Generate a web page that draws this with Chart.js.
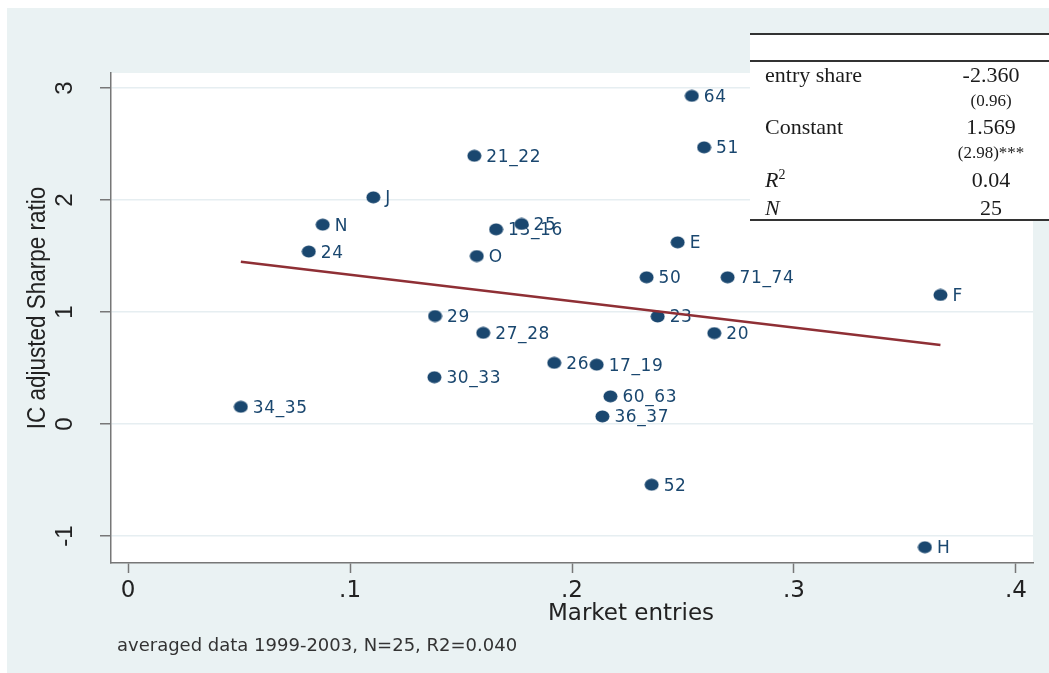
<!DOCTYPE html>
<html>
<head>
<meta charset="utf-8">
<script src="https://cdn.jsdelivr.net/npm/chart.js@4.4.0/dist/chart.umd.min.js"></script>
<style>
  html, body { margin: 0; padding: 0; background: #fff; }
</style>
</head>
<body>
<canvas id="c" width="1049" height="673"></canvas>
<script>
// industry codes next to each marker
const pointLabels = ["64", "51", "21_22", "J", "N", "13_16", "25", "E", "24", "O",
  "50", "71_74", "F", "29", "23", "20", "27_28", "26", "17_19", "30_33",
  "60_63", "34_35", "36_37", "52", "H"];
// market entries (x) and IC adjusted Sharpe ratio (y)
const entries = [0.254, 0.2595, 0.156, 0.1105, 0.0877, 0.1658, 0.1773, 0.2476, 0.0814, 0.1571,
  0.2336, 0.2701, 0.366, 0.1383, 0.2386, 0.2641, 0.160, 0.192, 0.2111, 0.138,
  0.2173, 0.0508, 0.2137, 0.2359, 0.359];
const sharpe = [2.93, 2.47, 2.395, 2.024, 1.78, 1.738, 1.786, 1.622, 1.54, 1.50,
  1.31, 1.31, 1.152, 0.964, 0.96, 0.812, 0.814, 0.546, 0.53, 0.418,
  0.247, 0.154, 0.068, -0.542, -1.10];
// fitted line end points
const fitX = [0.0508, 0.366];
const fitY = [1.449, 0.705];

const xTicks = [0, 0.1, 0.2, 0.3, 0.4];
const yTicks = [-1, 0, 1, 2, 3];

// regression table
const tableNames = ["entry share", "Constant"];
const tableCoefs = ["-2.360", "1.569"];
const tableSE = ["(0.96)", "(2.98)***"];
const tableR2 = "0.04";
const tableN = "25";
const footnote = "averaged data 1999-2003, N=25, R2=0.040";

const navy = "#1a476f";
const sans = '"DejaVu Sans", sans-serif';
const arial = '"Liberation Sans", Arial, sans-serif';
const serif = '"Liberation Serif", "Times New Roman", serif';

// Stata markers come out slightly wide in the picture
const dot = document.createElement("canvas");
dot.width = 15; dot.height = 13;
(function () {
  const d = dot.getContext("2d");
  d.fillStyle = navy;
  d.beginPath();
  d.ellipse(7.5, 6.5, 7, 6, 0, 0, Math.PI * 2);
  d.fill();
})();

const backdrop = {
  id: "backdrop",
  beforeDraw(chart) {
    const { ctx, chartArea: a } = chart;
    ctx.save();
    ctx.fillStyle = "#fff";
    ctx.fillRect(0, 0, chart.width, chart.height);
    ctx.fillStyle = "#eaf2f3";
    ctx.fillRect(7, 8, chart.width - 7, chart.height - 8);
    ctx.fillStyle = "#fff";
    ctx.fillRect(a.left, a.top, a.right - a.left, a.bottom - a.top);
    ctx.restore();
  },
};

// marker labels at 3 o'clock
const markerLabels = {
  id: "markerLabels",
  beforeDatasetsDraw(chart) {
    const { ctx } = chart;
    const meta = chart.getDatasetMeta(1);
    ctx.save();
    ctx.font = "17px " + sans;
    ctx.fillStyle = navy;
    ctx.textBaseline = "alphabetic";
    if ("letterSpacing" in ctx) ctx.letterSpacing = "0.6px";
    meta.data.forEach((pt, i) => {
      ctx.fillText(pointLabels[i], pt.x + 12, pt.y + 6);
    });
    ctx.restore();
  },
};

const notes = {
  id: "notes",
  afterDraw(chart) {
    const { ctx } = chart;
    ctx.save();
    ctx.fillStyle = "#222";

    // axis titles
    ctx.font = "23px " + sans;
    ctx.textAlign = "center";
    ctx.fillText("Market entries", 631, 620);
    ctx.save();
    ctx.translate(38, 308);
    ctx.scale(1.15, 1);
    ctx.rotate(-Math.PI / 2);
    ctx.font = "22.5px " + arial;
    ctx.textBaseline = "middle";
    ctx.fillText("IC adjusted Sharpe ratio", 0, 0);
    ctx.restore();

    // footnote
    ctx.textAlign = "left";
    ctx.font = "18px " + sans;
    ctx.fillStyle = "#333";
    ctx.fillText(footnote, 117, 651);

    // regression table
    ctx.fillStyle = "#fff";
    ctx.fillRect(750, 34, chart.width - 750, 187);
    ctx.strokeStyle = "#333";
    ctx.lineWidth = 2;
    [34, 61, 220].forEach((y) => {
      ctx.beginPath();
      ctx.moveTo(750, y);
      ctx.lineTo(chart.width, y);
      ctx.stroke();
    });
    ctx.fillStyle = "#1b1b1b";
    const cx = 991;
    tableNames.forEach((name, i) => {
      const y = 82 + i * 52;
      ctx.font = "22px " + serif;
      ctx.textAlign = "left";
      ctx.fillText(name, 765, y);
      ctx.textAlign = "center";
      ctx.fillText(tableCoefs[i], cx, y);
      ctx.font = "17px " + serif;
      ctx.fillText(tableSE[i], cx, y + 24);
    });
    ctx.textAlign = "left";
    ctx.font = "italic 22px " + serif;
    ctx.fillText("R", 765, 187);
    const rw = ctx.measureText("R").width;
    ctx.font = "14px " + serif;
    ctx.fillText("2", 765 + rw, 179);
    ctx.font = "italic 22px " + serif;
    ctx.fillText("N", 765, 215);
    ctx.font = "22px " + serif;
    ctx.textAlign = "center";
    ctx.fillText(tableR2, cx, 187);
    ctx.fillText(tableN, cx, 215);
    ctx.restore();
  },
};

new Chart(document.getElementById("c"), {
  type: "scatter",
  data: {
    datasets: [
      {
        label: "Fitted values",
        data: fitX.map((x, i) => ({ x: x, y: fitY[i] })),
        showLine: true,
        borderColor: "#8f2f35",
        borderWidth: 2.5,
        pointRadius: 0,
      },
      {
        label: "IC adjusted Sharpe ratio",
        data: entries.map((x, i) => ({ x: x, y: sharpe[i] })),
        pointStyle: dot,
        pointRadius: 7,
      },
    ],
  },
  options: {
    responsive: false,
    animation: false,
    devicePixelRatio: 1,
    layout: { padding: { left: 7, top: 73, right: 16, bottom: 0 } },
    plugins: {
      legend: { display: false },
      tooltip: { enabled: false },
    },
    scales: {
      x: {
        type: "linear",
        min: -0.0077,
        max: 0.4077,
        afterBuildTicks: (s) => { s.ticks = xTicks.map((v) => ({ value: v })); },
        afterFit: (s) => { s.height = 110; },
        ticks: {
          callback: (v) => (v === 0 ? "0" : String(v).replace(/^0/, "")),
          font: { family: sans, size: 23 },
          color: "#222",
          padding: 4,
          maxRotation: 0,
        },
        grid: { drawOnChartArea: false, tickLength: 10, tickColor: "#777", tickWidth: 1.5 },
        border: { color: "#777", width: 1.5 },
      },
      y: {
        min: -1.241,
        max: 3.134,
        afterBuildTicks: (s) => { s.ticks = yTicks.map((v) => ({ value: v })); },
        afterFit: (s) => { s.width = 104; },
        ticks: {
          minRotation: 90,
          maxRotation: 90,
          crossAlign: "center",
          font: { family: arial, size: 24 },
          color: "#222",
          padding: 24,
        },
        grid: { color: "#e6eef1", lineWidth: 1.5, tickLength: 11, tickColor: "#777", tickWidth: 1.5 },
        border: { color: "#777", width: 1.5 },
      },
    },
  },
  plugins: [backdrop, markerLabels, notes],
});
</script>
</body>
</html>
